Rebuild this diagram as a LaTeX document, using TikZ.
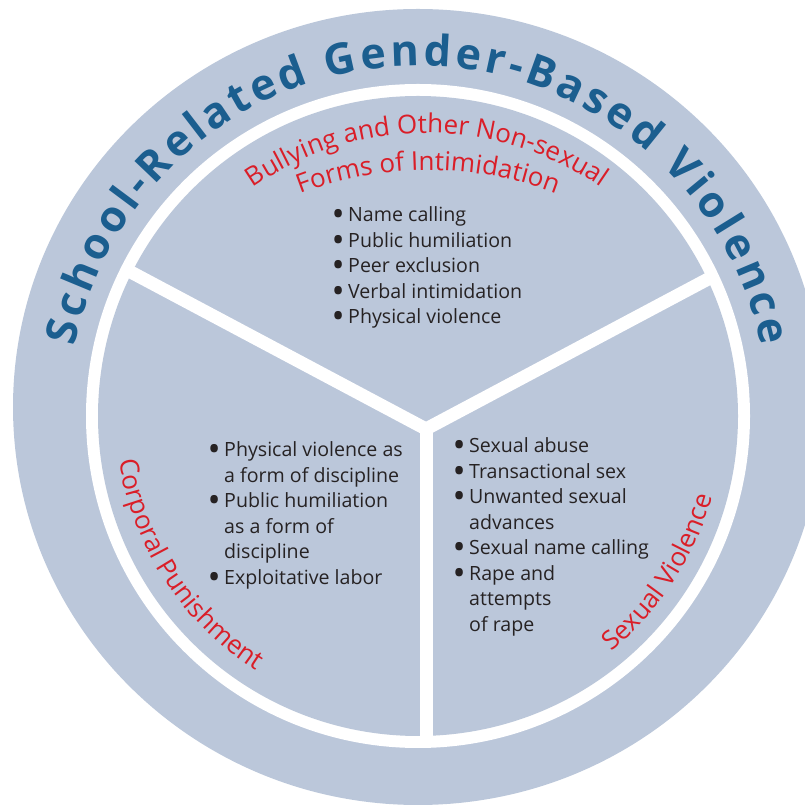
\documentclass[tikz,border=0pt]{standalone}
\usepackage{fontspec}
\setmainfont{Open Sans}
\usetikzlibrary{calc,decorations.text}

\definecolor{ringgray}{RGB}{187,199,218}
\definecolor{titleblue}{RGB}{27,94,143}
\definecolor{labelred}{RGB}{218,30,40}
\definecolor{bodytext}{RGB}{38,34,35}

\newcommand{\titlefont}{\fontsize{43}{43}\selectfont\bfseries}
\newcommand{\labelfont}{\fontsize{26}{26}\selectfont}
\newcommand{\listbul}{\makebox[15pt][l]{\raisebox{-1.6pt}{\fontsize{27}{27}\selectfont\bfseries\textbullet}}}

\tikzset{
  divider/.style={white, line width=13pt},
  listbox/.style={anchor=base west, inner sep=0pt, text=bodytext,
    font=\fontsize{19.6}{25.5}\selectfont},
  titlearc/.style={decorate, decoration={text along path,
    text align={fit to path}, text color=titleblue, text={|\titlefont|#1}}},
  labelarc/.style={decorate, decoration={text along path,
    text align=center, text color=labelred, text={|\labelfont|#1}}}
}

\begin{document}
\begin{tikzpicture}[x=1pt,y=1pt]
  \useasboundingbox (0,0) rectangle (805,808);
  \clip (0,0) rectangle (805,808);

  % centres
  \coordinate (rim) at (418,401);
  \coordinate (ctr) at (418,392);
  \coordinate (hub) at (426,379);
  \coordinate (topline) at (427,369);
  \coordinate (botline) at (428,282);

  % rings
  \fill[ringgray] (rim) ellipse[x radius=405, y radius=398];
  \fill[white] (ctr) circle[radius=332];
  \fill[ringgray] (ctr) circle[radius=320];

  % dividers
  \coordinate (armleft) at ($(hub)+(152:400)$);
  \coordinate (armright) at ($(hub)+(28:400)$);
  \coordinate (armdown) at ($(hub)+(270:400)$);
  \begin{scope}
    \clip (ctr) circle[radius=326];
    \draw[divider] (armleft) -- (hub) -- (armright);
    \draw[divider] (hub) -- (armdown);
  \end{scope}

  % arc texts
  \path[shift={(ctr)}, titlearc={School-Related Gender-Based Violence}]
    (168.5:350) arc[start angle=168.5, end angle=11.5, radius=350];
  \path[shift={(topline)}, labelarc={Bullying and Other Non-sexual}]
    (140:306) arc[start angle=140, end angle=40, radius=306];
  \path[shift={(botline)}, labelarc={Forms of Intimidation}]
    (115:356) arc[start angle=115, end angle=65, radius=356];
  \path[shift={(ctr)}, labelarc={Corporal Punishment}]
    (182:302) arc[start angle=182, end angle=244, radius=302];
  \path[shift={(ctr)}, labelarc={Sexual Violence}]
    (-60:305) arc[start angle=-60, end angle=-6, radius=305];

  % lists
  \node[listbox] (bullying) at (333,586) {\begin{tabular}[t]{@{}l@{}l@{}}
    \listbul & Name calling\\
    \listbul & Public humiliation\\
    \listbul & Peer exclusion\\
    \listbul & Verbal intimidation\\
    \listbul & Physical violence
  \end{tabular}};
  \node[listbox] (corporal) at (209,351) {\begin{tabular}[t]{@{}l@{}l@{}}
    \listbul & Physical violence as\\
             & a form of discipline\\
    \listbul & Public humiliation\\
             & as a form of\\
             & discipline\\
    \listbul & Exploitative labor
  \end{tabular}};
  \node[listbox] (sexual) at (454,355) {\begin{tabular}[t]{@{}l@{}l@{}}
    \listbul & Sexual abuse\\
    \listbul & Transactional sex\\
    \listbul & Unwanted sexual\\
             & advances\\
    \listbul & Sexual name calling\\
    \listbul & Rape and\\
             & attempts\\
             & of rape
  \end{tabular}};
\end{tikzpicture}
\end{document}
